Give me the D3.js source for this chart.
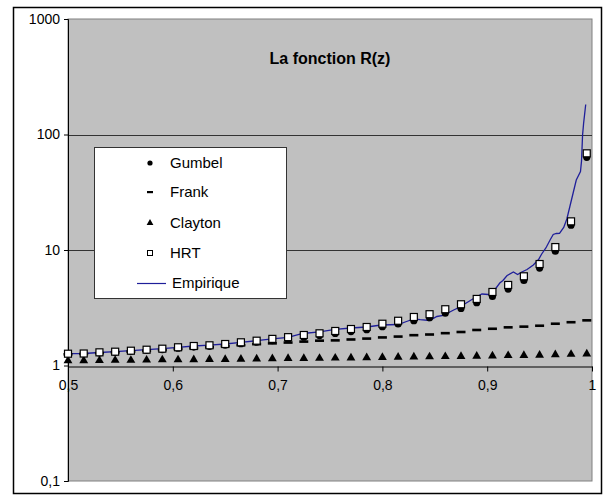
<!DOCTYPE html>
<html>
<head>
<meta charset="utf-8">
<script src="https://cdn.jsdelivr.net/npm/d3@7"></script>
<style>
  html, body { margin: 0; padding: 0; background: #fff; }
  svg { display: block; font-family: "Liberation Sans", Arial, sans-serif; }
</style>
</head>
<body>
<svg id="chart" width="607" height="500"></svg>
<script>
// Grid of z values for the model series
const zModel = [0.5, 0.515, 0.53, 0.545, 0.56, 0.575, 0.59, 0.605, 0.62, 0.635, 0.65, 0.665,
  0.68, 0.695, 0.71, 0.725, 0.74, 0.755, 0.77, 0.785, 0.8, 0.815, 0.83, 0.845,
  0.86, 0.875, 0.89, 0.905, 0.92, 0.935, 0.95, 0.965, 0.98, 0.995];

const gumbel = [1.255, 1.26, 1.285, 1.30, 1.325, 1.35, 1.375, 1.41, 1.445, 1.465, 1.50, 1.545,
  1.59, 1.645, 1.69, 1.76, 1.815, 1.895, 1.965, 2.04, 2.17, 2.29, 2.44, 2.59,
  2.84, 3.12, 3.50, 3.96, 4.59, 5.45, 6.98, 9.75, 16.4, 63.5];

const frank = [1.25, 1.26, 1.28, 1.30, 1.32, 1.34, 1.36, 1.39, 1.41, 1.44, 1.47, 1.50,
  1.53, 1.555, 1.58, 1.61, 1.64, 1.65, 1.68, 1.71, 1.75, 1.78, 1.83, 1.855,
  1.905, 1.95, 2.03, 2.08, 2.14, 2.17, 2.21, 2.30, 2.37, 2.46];

const clayton = [1.10, 1.10, 1.105, 1.11, 1.11, 1.115, 1.12, 1.12, 1.125, 1.13, 1.13, 1.135,
  1.14, 1.145, 1.15, 1.15, 1.155, 1.16, 1.165, 1.17, 1.175, 1.18, 1.185, 1.19,
  1.195, 1.20, 1.205, 1.21, 1.22, 1.225, 1.23, 1.24, 1.25, 1.26];

const hrt = [1.265, 1.27, 1.30, 1.317, 1.343, 1.37, 1.398, 1.438, 1.475, 1.496, 1.535, 1.588,
  1.64, 1.70, 1.76, 1.837, 1.90, 1.99, 2.07, 2.155, 2.30, 2.44, 2.63, 2.78,
  3.07, 3.39, 3.77, 4.33, 4.98, 5.92, 7.56, 10.6, 17.7, 68.7];

// Empirical curve
const zEmp = [0.5, 0.515, 0.53, 0.545, 0.56, 0.575, 0.59, 0.605, 0.62, 0.635, 0.65, 0.665,
  0.68, 0.695, 0.71, 0.724, 0.74, 0.755, 0.77, 0.785, 0.799, 0.815, 0.823, 0.83,
  0.836, 0.845, 0.852, 0.858, 0.868, 0.874, 0.88, 0.887, 0.895, 0.901, 0.905, 0.912,
  0.915, 0.919, 0.925, 0.929, 0.933, 0.938, 0.944, 0.949, 0.952, 0.956, 0.96, 0.963,
  0.966, 0.969, 0.973, 0.976, 0.979, 0.982, 0.985, 0.989, 0.99, 0.991, 0.992, 0.994];
const empirique = [1.265, 1.27, 1.296, 1.317, 1.343, 1.37, 1.398, 1.437, 1.475, 1.499, 1.535, 1.588,
  1.64, 1.703, 1.755, 1.893, 1.958, 2.058, 2.112, 2.154, 2.242, 2.264, 2.404, 2.527,
  2.492, 2.453, 2.657, 2.71, 3.024, 3.21, 3.476, 3.803, 4.159, 4.118, 4.244, 5.18,
  5.444, 6.014, 6.451, 6.135, 6.451, 6.78, 7.418, 8.276, 9.233, 10.41, 12.21, 13.62,
  13.9, 13.95, 15.66, 18.56, 24.04, 31.15, 40.37, 47.82, 58.97, 99.0, 125.0, 181.8];

const xTicks = [0.5, 0.6, 0.7, 0.8, 0.9, 1];
const yTicks = [0.1, 1, 10, 100, 1000];
const gridValues = [10, 100];
const titleText = "La fonction R(z)";
const legendNames = ["Gumbel", "Frank", "Clayton", "HRT", "Empirique"];

const svg = d3.select("#chart");
const plot = { left: 68, right: 592, top: 19, bottom: 481 };

const x = d3.scaleLinear().domain([0.5, 1]).range([plot.left, plot.right]);
const y = d3.scaleLog().domain([0.1, 1000]).range([plot.bottom, plot.top]);

const comma = d => String(d).replace(".", ",");

// Outer chart frame
svg.append("rect")
  .attr("x", 13.5).attr("y", 7.5).attr("width", 588).attr("height", 486)
  .attr("fill", "#fff").attr("stroke", "#000").attr("stroke-width", 1.5);

// Plot area
svg.append("rect")
  .attr("x", plot.left).attr("y", plot.top)
  .attr("width", plot.right - plot.left).attr("height", plot.bottom - plot.top)
  .attr("fill", "#c0c0c0").attr("stroke", "#808080").attr("stroke-width", 1);

// Major gridlines
svg.append("g").selectAll("line").data(gridValues).join("line")
  .attr("x1", plot.left).attr("x2", plot.right)
  .attr("y1", d => Math.round(y(d)) + 0.5).attr("y2", d => Math.round(y(d)) + 0.5)
  .attr("stroke", "#333").attr("stroke-width", 1);

// Y axis
const yAxis = svg.append("g")
  .attr("transform", `translate(${plot.left},0)`)
  .call(d3.axisLeft(y).tickValues(yTicks).tickFormat(comma).tickSize(4).tickPadding(4));
yAxis.select(".domain").attr("stroke", "#000");
yAxis.selectAll("text").attr("font-size", 14).attr("fill", "#000")
  .attr("font-family", "'Liberation Sans', Arial, sans-serif");

// X axis crossing at R = 1
const xAxis = svg.append("g")
  .attr("transform", `translate(0,${Math.round(y(1)) + 0.5})`)
  .call(d3.axisBottom(x).tickValues(xTicks).tickFormat(comma).tickSize(5).tickPadding(9).tickSizeOuter(0));
xAxis.select(".domain").attr("stroke", "#000");
xAxis.selectAll("text").attr("font-size", 14).attr("fill", "#000")
  .attr("font-family", "'Liberation Sans', Arial, sans-serif");

// Title
svg.append("text")
  .attr("x", 330).attr("y", 64)
  .attr("text-anchor", "middle")
  .attr("font-size", 16).attr("font-weight", "bold")
  .text(titleText);

// Empirical line
const line = d3.line().x(d => x(d[0])).y(d => y(d[1]));
svg.append("path")
  .datum(zEmp.map((z, i) => [z, empirique[i]]))
  .attr("d", line)
  .attr("fill", "none").attr("stroke", "#1f1f9a").attr("stroke-width", 1.3);

const pts = arr => zModel.map((z, i) => [z, arr[i]]);

// Gumbel: filled circles
svg.append("g").selectAll("circle").data(pts(gumbel)).join("circle")
  .attr("cx", d => x(d[0])).attr("cy", d => y(d[1])).attr("r", 3.6)
  .attr("fill", "#000");

// Frank: short dashes
svg.append("g").selectAll("rect").data(pts(frank)).join("rect")
  .attr("x", d => x(d[0]) - 4.5).attr("y", d => y(d[1]) - 1.3)
  .attr("width", 9).attr("height", 2.6).attr("fill", "#000");

// Clayton: triangles
const tri = d3.symbol().type(d3.symbolTriangle).size(34);
svg.append("g").selectAll("path").data(pts(clayton)).join("path")
  .attr("transform", d => `translate(${x(d[0])},${y(d[1])})`)
  .attr("d", tri).attr("fill", "#000");

// HRT: open squares
svg.append("g").selectAll("rect").data(pts(hrt)).join("rect")
  .attr("x", d => x(d[0]) - 3.5).attr("y", d => y(d[1]) - 3.5)
  .attr("width", 7).attr("height", 7)
  .attr("fill", "#fff").attr("stroke", "#000").attr("stroke-width", 1.2);

// Legend
const lg = svg.append("g");
lg.append("rect")
  .attr("x", 94.5).attr("y", 147.5).attr("width", 192).attr("height", 151)
  .attr("fill", "#fff").attr("stroke", "#333").attr("stroke-width", 1);
const rowY = [163, 192, 223, 253, 283];
const mx = 150;
lg.append("circle").attr("cx", mx).attr("cy", rowY[0]).attr("r", 2.6).attr("fill", "#000");
lg.append("rect").attr("x", mx - 3).attr("y", rowY[1] - 1).attr("width", 6).attr("height", 2.2).attr("fill", "#000");
lg.append("path").attr("transform", `translate(${mx},${rowY[2]})`)
  .attr("d", d3.symbol().type(d3.symbolTriangle).size(20)).attr("fill", "#000");
lg.append("rect").attr("x", mx - 2.5).attr("y", rowY[3] - 2.5).attr("width", 5).attr("height", 5)
  .attr("fill", "#fff").attr("stroke", "#000").attr("stroke-width", 1);
lg.append("line").attr("x1", 137).attr("x2", 166).attr("y1", rowY[4] + 0.5).attr("y2", rowY[4] + 0.5)
  .attr("stroke", "#1f1f9a").attr("stroke-width", 1.2);
lg.selectAll("text.item").data(legendNames).join("text")
  .attr("class", "item")
  .attr("x", (d, i) => i === 4 ? 172 : 170)
  .attr("y", (d, i) => rowY[i]).attr("dy", "0.36em")
  .attr("font-size", 15).attr("fill", "#000")
  .text(d => d);
</script>
</body>
</html>
